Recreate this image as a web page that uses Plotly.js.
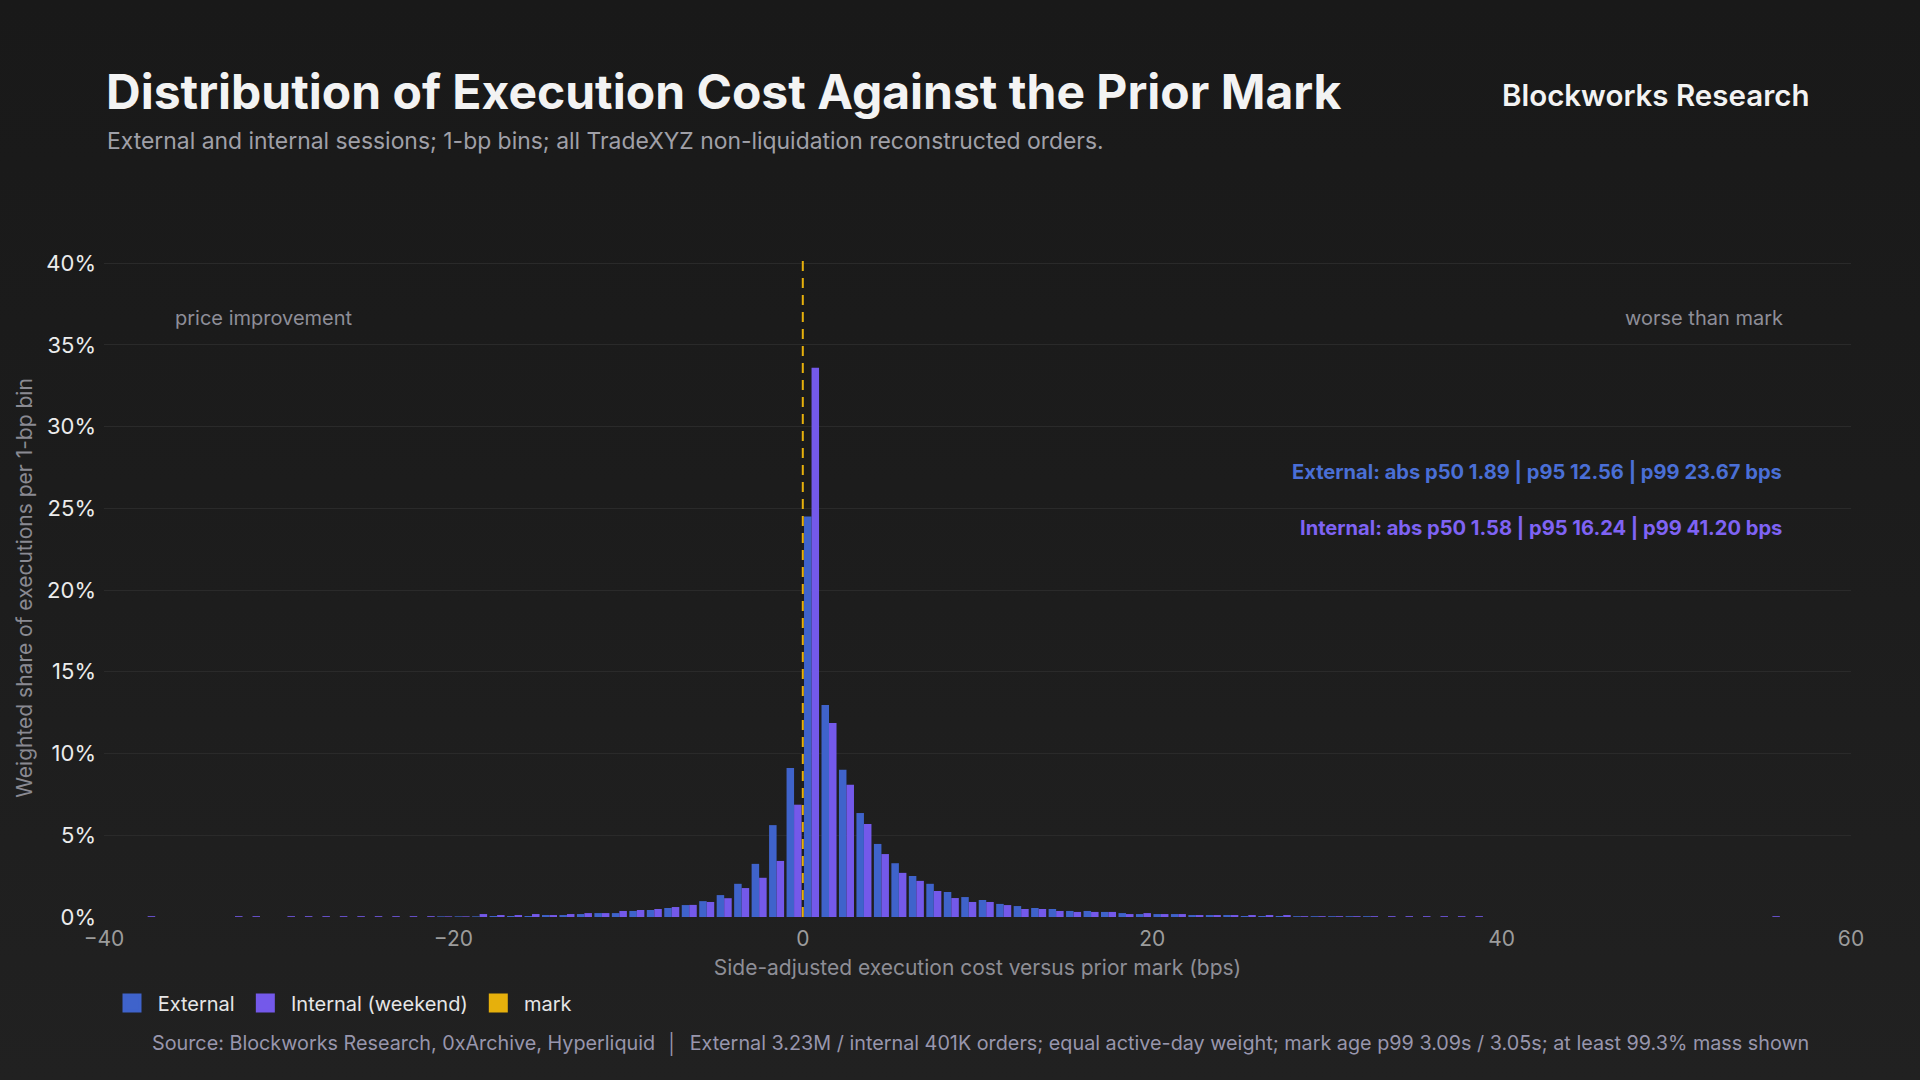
<!DOCTYPE html>
<html>
<head>
<meta charset="utf-8">
<script src="https://cdn.plot.ly/plotly-3.0.1.min.js"></script>
<style>
  html, body { margin: 0; padding: 0; }
  body { width: 1920px; height: 1080px; background: linear-gradient(180deg, #191919 0%, #1c1c1c 45%, #212121 100%); }
  #chart { width: 1920px; height: 1080px; }
</style>
</head>
<body>
<div id="chart"></div>
<script>
// 1-bp bins, left edge of each bin (bps)
const binLeft = [
  -38, -37, -36, -35, -34, -33, -32, -31, -30, -29, -28, -27, -26, -25, -24, -23, -22,
  -21, -20, -19, -18, -17, -16, -15, -14, -13, -12, -11, -10, -9, -8, -7, -6, -5, -4, -3, -2, -1,
  0, 1, 2, 3, 4, 5, 6, 7, 8, 9, 10, 11, 12, 13, 14, 15, 16, 17, 18, 19, 20,
  21, 22, 23, 24, 25, 26, 27, 28, 29, 30, 31, 32,
  33, 34, 35, 36, 37, 38, 39, 40, 41, 42, 43, 44, 45, 46, 47, 48, 49, 50, 51, 52, 53, 54, 55
];

// weighted share per bin (%)
const externalShare = [
  0, 0, 0, 0, 0, 0, 0, 0, 0, 0, 0, 0, 0, 0, 0, 0, 0,
  0.04, 0.04, 0.04, 0.06, 0.06, 0.06, 0.12, 0.12, 0.18, 0.24, 0.24, 0.37, 0.43, 0.55, 0.73, 0.97, 1.34, 2.03, 3.25, 5.62, 9.12,
  24.5, 12.97, 9.0, 6.36, 4.47, 3.29, 2.51, 2.03, 1.53, 1.22, 1.04, 0.80, 0.67, 0.55, 0.49, 0.37, 0.37, 0.31, 0.24, 0.18, 0.18,
  0.18, 0.12, 0.12, 0.12, 0.06, 0.06, 0.06, 0.05, 0.05, 0.05, 0.05, 0.05,
  0, 0, 0, 0, 0, 0, 0, 0, 0, 0, 0, 0, 0, 0, 0, 0, 0, 0, 0, 0, 0, 0, 0
];

const internalShare = [
  0.05, 0, 0, 0, 0, 0.05, 0.05, 0, 0.05, 0.05, 0.05, 0.05, 0.05, 0.05, 0.05, 0.05, 0.05,
  0.04, 0.04, 0.18, 0.12, 0.12, 0.18, 0.12, 0.18, 0.24, 0.24, 0.37, 0.43, 0.49, 0.61, 0.74, 0.92, 1.15, 1.77, 2.40, 3.43, 6.87,
  33.6, 11.87, 8.09, 5.69, 3.85, 2.70, 2.21, 1.59, 1.16, 0.92, 0.92, 0.73, 0.49, 0.49, 0.37, 0.31, 0.31, 0.31, 0.18, 0.24, 0.18,
  0.18, 0.12, 0.12, 0.12, 0.12, 0.12, 0.12, 0.05, 0.05, 0.05, 0.05, 0.05,
  0.05, 0.05, 0.05, 0.05, 0.05, 0.05, 0, 0, 0, 0, 0, 0, 0, 0, 0, 0, 0, 0, 0, 0, 0, 0, 0.05
];

const seriesNames = ["External", "Internal (weekend)", "mark"];
const markPosition = 0;
const xTicks = [-40, -20, 0, 20, 40, 60];
const yTicks = [0, 5, 10, 15, 20, 25, 30, 35, 40];
const yTickLabels = ["0%", "5%", "10%", "15%", "20%", "25%", "30%", "35%", "40%"];

const statsExternal = "External: abs p50 1.89 | p95 12.56 | p99 23.67 bps";
const statsInternal = "Internal: abs p50 1.58 | p95 16.24 | p99 41.20 bps";

const COL_EXT = "#3f63cb";
const COL_INT = "#7459ea";
const COL_MARK = "#e6b00c";
const FONT = "Inter, 'Noto Sans', sans-serif";
const NB = "\u00a0";

// pixel layout of the plot area
const W = 1920, H = 1080;
const M = { l: 104, r: 69, t: 259, b: 163 };
const plotW = W - M.l - M.r;
const plotH = H - M.t - M.b;
const px = (x) => (x - M.l) / plotW;
const py = (y) => (H - M.b - y) / plotH;

const centers = binLeft.map((b) => b + 0.5);

const data = [
  {
    type: "bar", x: centers, y: externalShare, name: seriesNames[0],
    marker: { color: COL_EXT }, showlegend: false, hoverinfo: "x+y",
  },
  {
    type: "bar", x: centers, y: internalShare, name: seriesNames[1],
    marker: { color: COL_INT }, showlegend: false, hoverinfo: "x+y",
  },
];

// legend-only entries (square swatches)
const legendPad = [NB, NB, ""];
[COL_EXT, COL_INT, COL_MARK].forEach((c, i) => {
  data.push({
    type: "scatter", mode: "markers", x: [null], y: [null], name: NB + seriesNames[i] + legendPad[i],
    marker: { symbol: "square", size: 16, color: c, line: { color: c, width: 3 } }, showlegend: true,
  });
});

const ann = (text, x, y, opts) => Object.assign({
  text, xref: "paper", yref: "paper", x: px(x), y: py(y), showarrow: false,
}, opts);

const layout = {
  width: W, height: H,
  margin: M,
  paper_bgcolor: "rgba(0,0,0,0)",
  plot_bgcolor: "rgba(0,0,0,0)",
  font: { family: FONT, color: "#dcdcdc" },
  barmode: "group",
  bargap: 0.14,
  bargroupgap: 0,
  showlegend: true,
  legend: {
    orientation: "h", x: px(112), xanchor: "left", y: py(1003), yanchor: "middle",
    font: { size: 20, color: "#e6e6e6", family: FONT }, itemwidth: 30,
    bgcolor: "rgba(0,0,0,0)",
  },
  xaxis: {
    range: [-40, 60], tickvals: xTicks, showgrid: false, zeroline: false,
    showline: false, ticks: "", ticklabelstandoff: 7,
    tickfont: { size: 21, color: "#9c9c9c", family: FONT },
    title: { text: "Side-adjusted execution cost versus prior mark (bps)", standoff: 10,
      font: { size: 21, color: "#8e8e96", family: FONT } },
  },
  yaxis: {
    range: [0, 40.25], tickvals: yTicks, ticktext: yTickLabels, showgrid: true,
    gridcolor: "#2a2a2a", gridwidth: 1, zeroline: false, showline: false,
    ticks: "", ticklabelstandoff: 7,
    tickfont: { size: 22, color: "#ececec", family: FONT },
    title: { text: "Weighted share of executions per 1-bp bin", standoff: 7,
      font: { size: 21, color: "#8a8a92", family: FONT } },
  },
  shapes: [
    {
      type: "line", xref: "x", yref: "paper", x0: markPosition, x1: markPosition, y0: 0, y1: 1.006,
      line: { color: COL_MARK, width: 2, dash: "10px,7px" }, layer: "above",
    },
  ],
  annotations: [
    ann("Distribution of Execution Cost Against the Prior Mark", 104, 92,
      { xanchor: "left", yanchor: "middle", font: { size: 48, color: "#f3f3f3", family: FONT, weight: 700 } }),
    ann("External and internal sessions; 1-bp bins; all TradeXYZ non-liquidation reconstructed orders.", 105, 141,
      { xanchor: "left", yanchor: "middle", font: { size: 22.9, color: "#a0a0a8", family: FONT } }),
    ann("Blockworks Research", 1812, 95,
      { xanchor: "right", yanchor: "middle", font: { size: 29.5, color: "#f3f3f3", family: FONT, weight: 600 } }),
    ann("price improvement", 173, 318,
      { xanchor: "left", yanchor: "middle", font: { size: 20, color: "#8e8e98", family: FONT } }),
    ann("worse than mark", 1785, 318,
      { xanchor: "right", yanchor: "middle", font: { size: 20, color: "#8e8e98", family: FONT } }),
    ann(statsExternal, 1784, 471,
      { xanchor: "right", yanchor: "middle", font: { size: 20.1, color: "#4a6fd6", family: FONT, weight: 700 } }),
    ann(statsInternal, 1784, 527,
      { xanchor: "right", yanchor: "middle", font: { size: 20.1, color: "#7f63f4", family: FONT, weight: 700 } }),
    ann("Source: Blockworks Research, 0xArchive, Hyperliquid  │  External 3.23M / internal 401K orders; equal active-day weight; mark age p99 3.09s / 3.05s; at least 99.3% mass shown",
      980, 1043,
      { xanchor: "center", yanchor: "middle", font: { size: 19.8, color: "#9896ad", family: FONT } }),
  ],
};

Plotly.newPlot("chart", data, layout, { staticPlot: true, displayModeBar: false });
</script>
</body>
</html>
